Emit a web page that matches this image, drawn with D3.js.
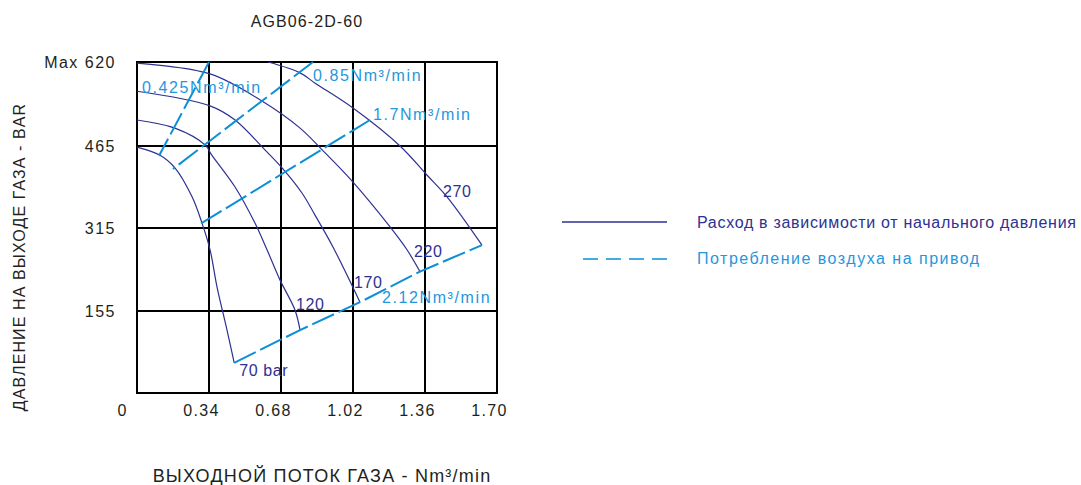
<!DOCTYPE html>
<html><head><meta charset="utf-8">
<script src="https://cdn.jsdelivr.net/npm/d3@7"></script>
<style>
html,body{margin:0;padding:0;background:#fff;}
svg{display:block;font-family:"Liberation Sans",Arial,Helvetica,sans-serif;}
</style>
</head><body>
<svg id="chart" width="1081" height="485"></svg>
<script>
// ---------- DATA ----------
const chartTitle = "AGB06-2D-60";
const xAxisTitle = "ВЫХОДНОЙ ПОТОК ГАЗА - Nm³/min";
const yAxisTitle = "ДАВЛЕНИЕ НА ВЫХОДЕ ГАЗА - BAR";

const flowTicks = [0, 0.34, 0.68, 1.02, 1.36, 1.70];
const flowTickLabels = ["0", "0.34", "0.68", "1.02", "1.36", "1.70"];
const pressureGrid = [0, 155, 315, 465, 620];
const pressureTicks = [155, 315, 465, 620];
const pressureTickLabels = ["155", "315", "465", "Max 620"];

// outlet flow (Nm³/min) vs outlet pressure (bar) for each inlet pressure
const inletLabels = ["70 bar", "120", "170", "220", "270"];
const curve70  = [[0,463],[0.109,448],[0.179,425],[0.260,372],[0.307,324],[0.345,273],[0.378,201],[0.425,119],[0.459,57]];
const curve120 = [[0,513],[0.179,498],[0.321,467],[0.354,448],[0.463,390],[0.557,324],[0.614,273],[0.675,215],[0.746,157],[0.770,119]];
const curve170 = [[0,566],[0.345,539],[0.463,513],[0.604,458],[0.685,425],[0.779,379],[0.840,339],[0.926,278],[1.053,172]];
const curve220 = [[0,618],[0.345,598],[0.590,548],[0.770,498],[0.874,458],[1.020,399],[1.195,317],[1.275,273],[1.336,231]];
const curve270 = [[0.619,620],[0.770,600],[0.841,581],[1.020,535],[1.242,465],[1.369,412],[1.464,372],[1.629,282]];

// drive air consumption lines
const airLabels = ["0.425Nm³/min", "0.85Nm³/min", "1.7Nm³/min", "2.12Nm³/min"];
const air0425 = [[0.34,620],[0.104,447]];
const air085  = [[0.831,620],[0.170,423]];
const air17   = [[1.100,513],[0.2975,322]];
const air212  = [[0.459,57],[0.770,119],[1.053,172],[1.336,231],[1.629,282]];
const airLabelAt = [[0.024,563],[0.831,585],[1.114,513],[1.157,170]];

const legendLabels = ["Расход в зависимости от начального давления", "Потребление воздуха на привод"];

// ---------- DRAW ----------
const NAVY = "#2e3192", CYAN = "#0b8fd6", CYAN_TXT = "#1f97dd", INK = "#231f20";
const svg = d3.select("#chart");
svg.append("rect").attr("width",1081).attr("height",485).attr("fill","#fff");

const x = d3.scaleLinear().domain([0, 1.70]).range([137, 497]);
const y = d3.scaleLinear().domain(pressureGrid).range([393, 311, 228, 146, 62]);

// grid
const grid = svg.append("g").attr("stroke", "#000").attr("stroke-width", 2).attr("stroke-linecap","square");
grid.selectAll("line.v").data(flowTicks).join("line").attr("class","v")
  .attr("x1", d => x(d)).attr("x2", d => x(d)).attr("y1", y(620)).attr("y2", y(0));
grid.selectAll("line.h").data(pressureGrid).join("line").attr("class","h")
  .attr("y1", d => y(d)).attr("y2", d => y(d)).attr("x1", x(0)).attr("x2", x(1.70));

// axes tick labels
const xAxis = svg.append("g").attr("transform", `translate(0,${y(0)})`)
  .call(d3.axisBottom(x).tickValues(flowTicks).tickFormat((d,i) => flowTickLabels[i]).tickSize(0).tickPadding(11.5));
xAxis.select(".domain").remove();
xAxis.selectAll("text").attr("dx", (d,i) => i === 0 ? -15 : -8).attr("font-size", 16)
  .attr("fill", INK).attr("font-family", null).style("letter-spacing","1.3px");

const yAxis = svg.append("g").attr("transform", `translate(${x(0)},0)`)
  .call(d3.axisLeft(y).tickValues(pressureTicks).tickFormat((d,i) => pressureTickLabels[i]).tickSize(0).tickPadding(21));
yAxis.select(".domain").remove();
yAxis.selectAll("text").attr("font-size", 16).attr("fill", INK).attr("font-family", null).style("letter-spacing","1.5px");

// titles
svg.append("text").attr("x", 307).attr("y", 27).attr("text-anchor","middle")
  .attr("font-size", 16).attr("fill", INK).style("letter-spacing","1.1px").text(chartTitle);
svg.append("text").attr("x", 322).attr("y", 482).attr("text-anchor","middle")
  .attr("font-size", 18).attr("fill", INK).style("letter-spacing","1.2px").text(xAxisTitle);
svg.append("text").attr("transform","translate(25,257) rotate(-90)").attr("text-anchor","middle")
  .attr("font-size", 16).attr("fill", INK).style("letter-spacing","1.1px").text(yAxisTitle);

// curves
const line = d3.line().x(d => x(d[0])).y(d => y(d[1])).curve(d3.curveCatmullRom.alpha(0.5));
const curves = [curve70, curve120, curve170, curve220, curve270];
svg.append("g").selectAll("path").data(curves).join("path")
  .attr("d", line).attr("fill","none").attr("stroke", NAVY).attr("stroke-width", 1.2);

// curve labels, offset from each curve's end point
const labelOffsets = [[5,13],[-4,-20],[-6,-14],[-6,-15],[-39,-48]];
svg.append("g").selectAll("text").data(curves).join("text")
  .attr("x", (c,i) => x(c[c.length-1][0]) + labelOffsets[i][0])
  .attr("y", (c,i) => y(c[c.length-1][1]) + labelOffsets[i][1])
  .attr("font-size", 16).attr("fill", NAVY).style("letter-spacing","0.6px")
  .text((c,i) => inletLabels[i]);

// air consumption lines
const straight = d3.line().x(d => x(d[0])).y(d => y(d[1]));
const airLines = [air0425, air085, air17, air212];
svg.append("g").selectAll("path").data(airLines).join("path")
  .attr("d", straight).attr("fill","none").attr("stroke", CYAN).attr("stroke-width", 2)
  .attr("stroke-dasharray", "24,5");
svg.append("g").selectAll("text").data(airLabelAt).join("text")
  .attr("x", d => x(d[0])).attr("y", d => y(d[1]))
  .attr("font-size", 16).attr("fill", CYAN_TXT).style("letter-spacing","1.6px")
  .text((d,i) => airLabels[i]);

// legend
const lg = svg.append("g");
lg.append("line").attr("x1",562).attr("x2",667).attr("y1",222).attr("y2",222)
  .attr("stroke", NAVY).attr("stroke-width", 1.5);
lg.append("text").attr("x",697).attr("y",228).attr("font-size",16).attr("fill",NAVY)
  .style("letter-spacing","0.7px").text(legendLabels[0]);
lg.append("line").attr("x1",583).attr("x2",667).attr("y1",259).attr("y2",259)
  .attr("stroke", CYAN).attr("stroke-width", 1.5).attr("stroke-dasharray","15,8");
lg.append("text").attr("x",697).attr("y",264).attr("font-size",16).attr("fill",CYAN_TXT)
  .style("letter-spacing","1.5px").text(legendLabels[1]);
</script>
</body></html>
